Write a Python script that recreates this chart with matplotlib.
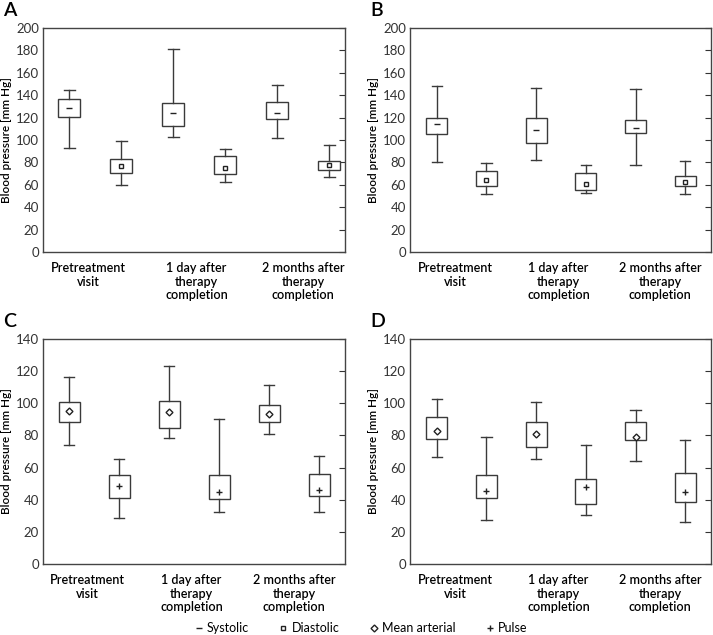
import numpy as np
import matplotlib
matplotlib.use('Agg')
import matplotlib.pyplot as plt
from matplotlib.lines import Line2D

plt.rcParams['font.family'] = ['Lato', 'DejaVu Sans']

groups = ['Pretreatment\nvisit', '1 day after\ntherapy\ncompletion', '2 months after\ntherapy\ncompletion']

# each box: whisker low, q1, centre mark, q3, whisker high  (order: pre, 1 day, 2 months)
a_sys = [[93, 120.5, 129, 136.6, 145], [103, 112.5, 123.8, 132.7, 181.5], [101.8, 118.8, 124, 134, 149.4]]
a_dia = [[59.8, 70.2, 76.5, 83, 99.4], [62.5, 70, 75.3, 85.4, 91.7], [66.7, 72.9, 77.4, 81.3, 95.2]]
b_sys = [[80.4, 105.5, 113.9, 119.3, 148.6], [82.5, 97.2, 108.8, 119.9, 146.5], [77.4, 106.4, 110.6, 118, 145.9]]
b_dia = [[52, 58.9, 64.3, 72.3, 79.5], [52.6, 55.6, 60.7, 70.6, 77.7], [51.4, 58.9, 62.5, 67.6, 81.3]]
c_map = [[74.2, 88.3, 95.3, 100.5, 116.1], [78.3, 84.8, 94.7, 101.6, 123], [81, 88.3, 93.5, 98.7, 111.1]]
c_pul = [[28.5, 41.3, 48.6, 55.3, 65.4], [32.6, 40.7, 45.1, 55.3, 90.2], [32.6, 42.2, 46.3, 55.7, 67.5]]
d_map = [[66.5, 77.5, 82.7, 91.4, 102.8], [65.2, 73.1, 80.8, 88.3, 100.7], [64.2, 76.9, 78.9, 88.1, 96]]
d_pul = [[27.2, 41.3, 45.7, 55.3, 79.1], [30.3, 37.2, 48, 52.6, 74], [26, 38.4, 45.1, 56.7, 77.1]]

W, H = 713, 635
fig = plt.figure(figsize=(W / 100, H / 100), dpi=100)

edge = '#3a3a3a'


def panel(rect, letter, first, second, m1, m2, ymax, xlim):
    ax = fig.add_axes(rect)
    stats = []
    marks = []
    for i in range(3):
        for vals in (first[i], second[i]):
            lo, q1, mid, q3, hi = vals
            stats.append(dict(whislo=lo, q1=q1, med=mid, q3=q3, whishi=hi, fliers=[]))
            marks.append(mid)
    pos = np.arange(1, 7)
    ax.bxp(stats, positions=pos, widths=0.42, patch_artist=True, showfliers=False,
           boxprops=dict(facecolor='white', edgecolor=edge, linewidth=1.0),
           whiskerprops=dict(color=edge, linewidth=1.0),
           capprops=dict(color=edge, linewidth=1.0),
           medianprops=dict(linestyle='none'), capwidths=0.21)
    for p, v in zip(pos, marks):
        mk = m1 if p % 2 == 1 else m2
        if mk in ('_', '+'):
            ax.plot(p, v, marker=mk, color='#222222', markersize=5, markeredgewidth=1.0)
        else:
            ax.plot(p, v, marker=mk, markerfacecolor='white', markeredgecolor='#222222',
                    markersize=3 if mk == 's' else 3.5, markeredgewidth=1.0)
    ax.set_ylim(0, ymax)
    ax.set_xlim(*xlim)
    ax.set_yticks(np.arange(0, ymax + 1, 20))
    ax.tick_params(axis='y', left=False, right=True, direction='in', length=4,
                   labelsize=9.5, colors='#333333', pad=3)
    ax.set_xticks([1.37, 3.45, 5.5])
    ax.set_xticklabels(groups, fontsize=9, fontweight='semibold', linespacing=1.15)
    ax.tick_params(axis='x', bottom=False, pad=4)
    for s in ax.spines.values():
        s.set_color('#444444')
        s.set_linewidth(1.0)
    ax.set_ylabel('Blood pressure [mm Hg]', fontsize=8.5, fontweight='semibold', labelpad=3)
    fig.text(rect[0] - (40 / W), rect[1] + rect[3] + 9 / H, letter, fontsize=14,
             fontweight='semibold', va='bottom', ha='left')
    return ax


panel([43 / W, 1 - 252 / H, 302 / W, 224 / H], 'A', a_sys, a_dia, '_', 's', 200, (0.5, 6.3))
panel([410 / W, 1 - 252 / H, 301 / W, 224 / H], 'B', b_sys, b_dia, '_', 's', 200, (0.46, 6.52))
panel([43 / W, 1 - 564 / H, 302 / W, 225 / H], 'C', c_map, c_pul, 'D', '+', 140, (0.48, 6.52))
panel([410 / W, 1 - 564 / H, 301 / W, 225 / H], 'D', d_map, d_pul, 'D', '+', 140, (0.46, 6.52))

handles = [
    Line2D([], [], linestyle='none', marker='_', color='#222222', markersize=5),
    Line2D([], [], linestyle='none', marker='s', markerfacecolor='white', markeredgecolor='#222222', markersize=3),
    Line2D([], [], linestyle='none', marker='D', markerfacecolor='white', markeredgecolor='#222222', markersize=3.5),
    Line2D([], [], linestyle='none', marker='+', color='#222222', markersize=5),
]
fig.legend(handles, ['Systolic', 'Diastolic', 'Mean arterial', 'Pulse'], loc='center',
           bbox_to_anchor=(0.507, 7 / H), ncol=4, frameon=False, fontsize=9,
           handlelength=0.5, handletextpad=0.4, columnspacing=2.5)

fig.savefig('out.png', dpi=100)
